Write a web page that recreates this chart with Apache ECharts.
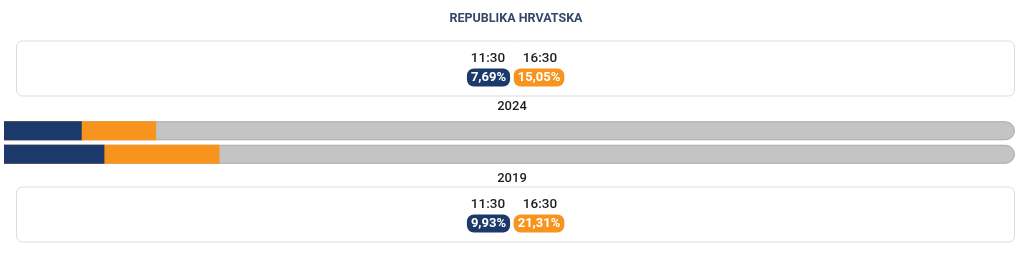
<!DOCTYPE html>
<html><head><meta charset="utf-8">
<script src="https://cdn.jsdelivr.net/npm/echarts@6/dist/echarts.min.js"></script>
<style>html,body{margin:0;padding:0;background:#fff}#c{width:1024px;height:259px}</style>
</head><body><div id="c"></div>
<script>
const title = 'REPUBLIKA HRVATSKA';
const years = ['2024', '2019'];
const times = ['11:30', '16:30'];
const turnout1130 = [7.69, 9.93];
const turnout1630 = [15.05, 21.31];
const fullScale = [100, 100];

const NAVY = '#1b3a6b', ORANGE = '#f7941d', GRAY = '#c4c4c4';
const fmt = v => v.toFixed(2).replace('.', ',') + '%';

const chart = echarts.init(document.getElementById('c'), null, {renderer: 'canvas'});

const boxCenters = [68.5, 214.5];
const yearY = [107, 179];
const graphic = [];
graphic.push({type: 'text', x: 516, y: 18.5, style: {text: title, font: 'bold 12.5px Roboto', fill: '#35486b', align: 'center', verticalAlign: 'middle'}});
boxCenters.forEach((cy, i) => {
  graphic.push({type: 'rect', shape: {x: 16.5, y: cy - 27.5, width: 998, height: 55, r: 6},
    style: {fill: '#fff', stroke: '#dcdcdc', lineWidth: 1}});
  const vals = [turnout1130[i], turnout1630[i]];
  const cols = [NAVY, ORANGE];
  const cxs = [488, 540];
  times.forEach((t, j) => {
    graphic.push({type: 'text', x: cxs[j], y: cy - 9.5, style: {text: t, font: '500 13.5px Roboto', fill: '#1e1e1e', align: 'center', verticalAlign: 'middle'}});
    graphic.push({type: 'text', x: cxs[j] + (j === 0 ? 0.5 : -1), y: cy + 9, style: {text: fmt(vals[j]), font: 'bold 13px Roboto', fill: '#fff', align: 'center', verticalAlign: 'middle', backgroundColor: cols[j], borderRadius: 7, padding: [3, 4, 2, 4]}});
  });
  graphic.push({type: 'text', x: 512, y: yearY[i], style: {text: years[i], font: '500 13px Roboto', fill: '#1e1e1e', align: 'center', verticalAlign: 'middle'}});
});

chart.setOption({
  animation: false,
  grid: {left: 4, top: 119, width: 1011, height: 47},
  xAxis: {type: 'value', min: 0, max: 100, show: false},
  yAxis: {type: 'category', data: years, inverse: true, show: false},
  graphic: graphic,
  series: [
    {type: 'bar', data: fullScale, barWidth: 19, barGap: '-100%', silent: true,
     itemStyle: {color: GRAY, borderColor: '#a9a9a9', borderWidth: 1, borderRadius: [0, 10, 10, 0]}},
    {type: 'bar', data: turnout1630, barWidth: 19, barGap: '-100%', silent: true, itemStyle: {color: ORANGE}},
    {type: 'bar', data: turnout1130, barWidth: 19, barGap: '-100%', silent: true, itemStyle: {color: NAVY}}
  ]
});
</script></body></html>
